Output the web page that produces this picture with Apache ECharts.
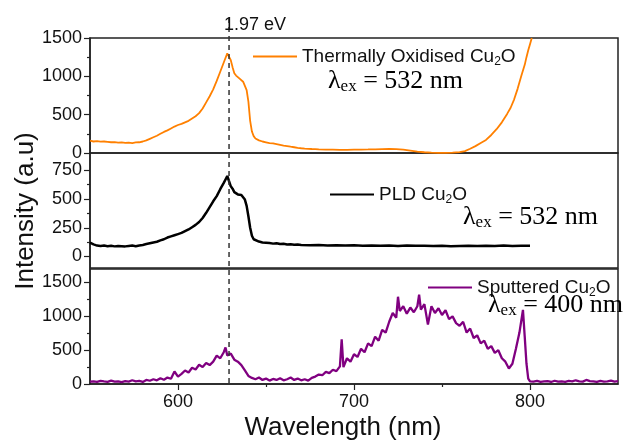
<!DOCTYPE html>
<html>
<head>
<meta charset="utf-8">
<script src="https://cdn.jsdelivr.net/npm/echarts@6/dist/echarts.min.js"></script>
<style>
html,body{margin:0;padding:0;background:#fff;}
#chart{width:625px;height:443px;}
</style>
</head>
<body>
<div id="chart"></div>
<script>
// ---- Data ----
const seriesNames = ['Thermally Oxidised Cu2O', 'PLD Cu2O', 'Sputtered Cu2O'];

const thermalWl = [550,552,554,556,558,560,562,564,566,568,570,572,574,576,578,580,582,584,586,588,590,592,594,596,598,600,602,604,606,608,610,612,614,616,618,620,622,624,626,628,629,630,631,632,633,634,635,636,637,638,639,640,641,642,643,644,646,648,650,652,654,656,658,660,662,664,666,668,670,672,674,676,678,680,684,688,692,696,700,704,708,712,716,720,724,728,732,736,740,744,748,752,756,760,763,766,769,772,775,778,781,784,787,789,791,793,795,797,798,799,800,801];
const thermalI = [160,150,155,148,150,145,140,142,135,138,132,135,130,138,140,150,165,185,205,225,250,275,295,320,345,365,380,400,420,450,480,520,580,660,740,830,940,1060,1180,1300,1280,1210,1120,1040,1010,990,970,960,930,910,820,670,420,280,220,190,165,150,140,130,125,115,105,95,90,82,75,68,62,58,55,52,50,48,45,44,42,42,44,45,46,48,50,52,50,45,32,18,10,5,2,2,5,12,25,55,90,130,170,235,310,400,510,590,700,840,1000,1150,1250,1340,1420,1500];

const pldWl = [550,552,554,556,558,560,562,564,566,568,570,572,574,576,578,580,582,584,586,588,590,592,594,596,598,600,602,604,606,608,610,612,614,616,618,620,622,624,626,627,628,629,630,631,632,633,634,635,636,637,638,639,640,641,642,643,644,646,648,650,652,654,656,658,660,662,664,666,668,670,675,680,685,690,695,700,705,710,715,720,725,730,735,740,745,750,755,760,765,770,775,780,785,790,795,800];
const pldI = [120,105,95,92,95,90,93,88,92,90,88,92,95,90,95,100,108,115,122,128,140,150,165,175,185,195,205,220,235,255,275,300,335,380,430,480,525,585,640,670,700,690,610,590,560,545,540,545,535,520,495,440,350,250,180,150,140,130,122,120,118,112,115,108,110,105,107,102,104,100,98,100,96,98,95,97,94,96,93,95,92,95,93,94,91,93,90,92,94,91,93,92,95,92,94,93];

const sputWl = [550,552,554,556,558,560,562,564,566,568,570,572,574,576,578,580,582,584,586,588,590,592,594,596,598,600,602,604,606,608,610,612,614,616,618,620,622,624,626,627,628,630,632,634,636,638,640,642,644,646,648,650,652,654,656,658,660,662,664,666,668,670,672,674,676,678,680,682,684,686,688,690,692,693,694,696,698,700,702,704,706,708,710,712,714,716,718,720,722,724,725,726,728,730,732,734,736,737,738,740,742,744,746,748,750,752,754,756,758,760,762,764,766,768,770,772,774,776,778,780,782,784,786,788,790,792,794,796,797,798,799,800,802,804,806,808,810,812,814,816,818,820,822,824,826,828,830,832,834,836,838,840,842,844,846,848,850];
const sputI = [35,40,30,45,38,32,50,35,40,28,42,36,55,38,45,30,60,48,70,55,85,62,95,78,185,110,150,200,170,240,215,285,250,310,280,330,420,380,470,540,420,450,360,330,280,200,120,90,70,95,60,80,50,75,60,85,55,70,95,60,80,55,70,50,90,110,140,130,180,160,210,190,260,660,250,380,330,440,400,520,470,600,560,700,640,800,760,920,1050,980,1290,1080,1150,1040,1130,1060,1150,1320,1100,1180,880,1150,1050,1120,1020,1090,960,1000,900,860,920,760,820,680,720,600,640,520,560,460,500,380,330,230,300,520,760,1095,700,300,80,40,35,45,30,38,42,30,48,35,40,32,45,38,55,40,35,60,42,38,30,45,35,40,50,35,42];

// axis tick values
const xMajor = [600, 700, 800];
const xMinor = [650, 750];
const yTopMajor = [0, 500, 1000, 1500];
const yTopMinor = [250, 750, 1250];
const yMidMajor = [0, 250, 500, 750];
const yMidMinor = [125, 375, 625];
const yBotMajor = [0, 500, 1000, 1500];
const yBotMinor = [250, 750, 1250];
const peakWl = 629;

function pairs(xs, ys){ return xs.map((x,i)=>[x, ys[i]]); }

const FONT = 'Liberation Sans, Arial, sans-serif';
const AX = '#222';
const plain = v => String(v);

function mkY(grid, min, max, ticks, labels, len){
  return {
    type:'value', gridIndex:grid, min:min, max:max, position:'left',
    axisLine:{show: labels, lineStyle:{color:AX, width:1.5}},
    axisTick:{show:true, length:len, customValues:ticks, lineStyle:{color:AX, width:1.2}},
    axisLabel:{show: labels, customValues:ticks, formatter:plain, margin:8, fontSize:18, fontFamily:FONT, color:'#111'},
    splitLine:{show:false}
  };
}
function mkX(grid, showTicks, ticks, labels, len){
  return {
    type:'value', gridIndex:grid, min:550, max:850, position:'bottom',
    axisLine:{show: labels, lineStyle:{color:AX, width:1.5}},
    axisTick:{show:showTicks, length:len, customValues:ticks || [], lineStyle:{color:AX, width:1.2}},
    axisLabel:{show: labels, customValues:ticks || [], formatter:plain, margin:9, fontSize:18, fontFamily:FONT, color:'#111'},
    splitLine:{show:false}
  };
}

const chart = echarts.init(document.getElementById('chart'), null, {renderer:'canvas'});

const subRich = {
  a:{fontSize:19, fontFamily:FONT, color:'#111', lineHeight:22},
  s:{fontSize:12, fontFamily:FONT, color:'#111', lineHeight:8, verticalAlign:'bottom'}
};
function legendFmt(name){
  const base = name.replace('Cu2O','');
  return '{a|' + base + 'Cu}{s|2}{a|O}';
}
function mkLegend(name, left, top){
  return {
    data:[name], left:left, top:top, orient:'horizontal',
    icon:'rect', itemWidth:44, itemHeight:2, itemGap:0,
    formatter: legendFmt,
    textStyle:{rich: subRich, padding:[0,0,0,0]},
    selectedMode:false
  };
}

const option = {
  animation:false,
  backgroundColor:'#fff',
  grid:[
    {left:90, right:7, top:38, height:115, show:true, borderColor:AX, borderWidth:1.5},
    {left:90, right:7, top:153, height:115, show:true, borderColor:AX, borderWidth:1.5},
    {left:90, right:7, top:269, height:115, show:true, borderColor:AX, borderWidth:1.5}
  ],
  xAxis:[
    mkX(0, false, null, false, 0),
    mkX(1, false, null, false, 0),
    mkX(2, true, xMajor, true, 6),
    mkX(2, true, xMinor, false, 3)
  ],
  yAxis:[
    mkY(0, 0, 1500, yTopMajor, true, 6),
    mkY(0, 0, 1500, yTopMinor, false, 3),
    mkY(1, -100, 900, yMidMajor, true, 6),
    mkY(1, -100, 900, yMidMinor, false, 3),
    mkY(2, 0, 1700, yBotMajor, true, 6),
    mkY(2, 0, 1700, yBotMinor, false, 3)
  ],
  legend:[
    mkLegend(seriesNames[0], 248, 42),
    mkLegend(seriesNames[1], 325, 180),
    mkLegend(seriesNames[2], 423, 273)
  ],
  series:[
    {name:seriesNames[0], type:'line', xAxisIndex:0, yAxisIndex:0, data:pairs(thermalWl, thermalI),
     showSymbol:false, color:'#ff8000', lineStyle:{width:1.8, color:'#ff8000'}, clip:true},
    {name:seriesNames[1], type:'line', xAxisIndex:1, yAxisIndex:2, data:pairs(pldWl, pldI),
     showSymbol:false, color:'#000', lineStyle:{width:2.5, color:'#000'}, clip:true},
    {name:seriesNames[2], type:'line', xAxisIndex:2, yAxisIndex:4, data:pairs(sputWl, sputI),
     showSymbol:false, color:'#800080', lineStyle:{width:2.3, color:'#800080'}, clip:true}
  ]
};
chart.setOption(option);

// annotations: dashed line at 1.97 eV, texts
const px = chart.convertToPixel({xAxisIndex:2}, peakWl);
const yBottom = chart.convertToPixel({yAxisIndex:4}, 0);
const lamRich = {
  l:{fontSize:26, fontFamily:'Liberation Serif, Times New Roman, serif', color:'#111', lineHeight:28},
  e:{fontSize:17, fontFamily:'Liberation Serif, Times New Roman, serif', color:'#111', lineHeight:12, verticalAlign:'bottom'}
};
function lam(x, y, nm){
  return {type:'text', x:x, y:y, z:100,
    style:{text:'{l|λ}{e|ex}{l| = ' + nm + ' nm}', rich:lamRich, textVerticalAlign:'middle'}};
}
chart.setOption({
  graphic:[
    {type:'line', z:50, shape:{x1:px, y1:18, x2:px, y2:yBottom},
     style:{stroke:'#333', lineWidth:1.5, lineDash:[5,4]}},
    {type:'text', x:px-5, y:25, z:100,
     style:{text:'1.97 eV', fontSize:18, fontFamily:FONT, fill:'#111', textVerticalAlign:'middle'}},
    lam(328, 81, '532'),
    lam(463, 217, '532'),
    lam(488, 305, '400'),
    {type:'text', x:26, y:211, rotation:Math.PI/2, z:100,
     style:{text:'Intensity (a.u)', fontSize:26, fontFamily:FONT, fill:'#111', textAlign:'center', textVerticalAlign:'middle'}},
    {type:'text', x:343, y:428, z:100,
     style:{text:'Wavelength (nm)', fontSize:26, fontFamily:FONT, fill:'#111', textAlign:'center', textVerticalAlign:'middle'}}
  ]
});
</script>
</body>
</html>
